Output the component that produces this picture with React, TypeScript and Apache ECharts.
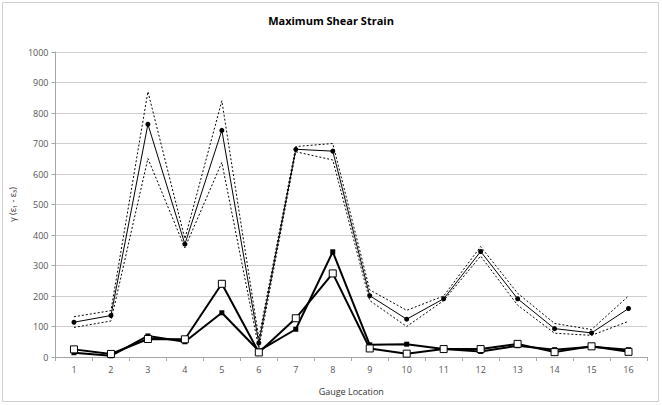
import React, { useEffect, useRef } from "react";
import * as echarts from "echarts";

const categories = ["1", "2", "3", "4", "5", "6", "7", "8", "9", "10", "11", "12", "13", "14", "15", "16"];
const meanValues = [114, 136, 763, 370, 743, 46, 681, 675, 201, 124, 191, 346, 191, 93, 79, 159];
const upperValues = [132, 152, 870, 388, 840, 62, 690, 700, 220, 153, 200, 362, 209, 110, 90, 200];
const lowerValues = [97, 118, 651, 358, 638, 28, 673, 646, 185, 100, 185, 331, 170, 78, 71, 117];
const filledSquareValues = [14, 4, 69, 50, 145, 20, 91, 345, 40, 42, 26, 18, 37, 24, 34, 24];
const openSquareValues = [25, 10, 59, 58, 240, 15, 127, 274, 28, 11, 26, 26, 43, 16, 35, 17];

const FONT = "'Open Sans', 'Noto Sans', sans-serif";

export default function App() {
  const ref = useRef<HTMLDivElement>(null);
  useEffect(() => {
    if (!ref.current) return;
    const chart = echarts.init(ref.current, null, { renderer: "svg" });
    chart.setOption({
      animation: false,
      backgroundColor: "#ffffff",
      title: {
        text: "Maximum Shear Strain",
        left: "center",
        top: 10,
        textStyle: { fontFamily: FONT, fontSize: 11, fontWeight: "bold", color: "#000" },
      },
      graphic: [
        {
          type: "rect",
          shape: { x: 2.5, y: 2.5, width: 656, height: 399 },
          style: { fill: "none", stroke: "#d0d0d0", lineWidth: 1 },
          silent: true,
        },
      ],
      grid: { left: 51, right: 15, top: 52, bottom: 48, containLabel: false },
      xAxis: {
        type: "category",
        data: categories,
        boundaryGap: true,
        name: "Gauge Location",
        nameLocation: "middle",
        nameGap: 30,
        nameTextStyle: { fontFamily: FONT, fontSize: 9, color: "#333" },
        axisLine: { lineStyle: { color: "#a6a6a6" } },
        axisTick: { show: true, inside: false, length: 4, lineStyle: { color: "#a6a6a6" } },
        axisLabel: { fontFamily: FONT, fontSize: 9, color: "#555", margin: 8 },
        splitLine: { show: false },
      },
      yAxis: {
        type: "value",
        min: 0,
        max: 1000,
        interval: 100,
        name: "γ (ε₁ - ε₃)",
        nameLocation: "middle",
        nameGap: 31,
        nameRotate: 90,
        nameTextStyle: { fontFamily: FONT, fontSize: 9, color: "#333" },
        axisLine: { show: true, lineStyle: { color: "#a6a6a6" } },
        axisTick: { show: true, inside: false, length: 4, lineStyle: { color: "#a6a6a6" } },
        axisLabel: {
          fontFamily: FONT,
          fontSize: 9,
          color: "#555",
          margin: 7,
          formatter: (v: number) => String(v),
        },
        splitLine: { show: true, lineStyle: { color: "#cfcfcf", width: 1 } },
      },
      series: [
        {
          type: "line",
          data: upperValues,
          symbol: "none",
          lineStyle: { color: "#000", width: 1, type: [2, 2] },
          z: 2,
        },
        {
          type: "line",
          data: lowerValues,
          symbol: "none",
          lineStyle: { color: "#000", width: 1, type: [2, 2] },
          z: 2,
        },
        {
          type: "line",
          data: meanValues,
          symbol: "circle",
          symbolSize: 5,
          itemStyle: { color: "#000" },
          lineStyle: { color: "#000", width: 1 },
          z: 3,
        },
        {
          type: "line",
          data: filledSquareValues,
          symbol: "rect",
          symbolSize: 5,
          itemStyle: { color: "#000" },
          lineStyle: { color: "#000", width: 2 },
          z: 4,
        },
        {
          type: "line",
          data: openSquareValues,
          symbol: "rect",
          symbolSize: 7,
          itemStyle: { color: "#fff", borderColor: "#000", borderWidth: 1 },
          lineStyle: { color: "#000", width: 2 },
          z: 5,
        },
      ],
    });
    return () => chart.dispose();
  }, []);
  return (
    <div
      ref={ref}
      style={{ position: "absolute", left: 0, top: 0, width: 662, height: 405 }}
    />
  );
}
